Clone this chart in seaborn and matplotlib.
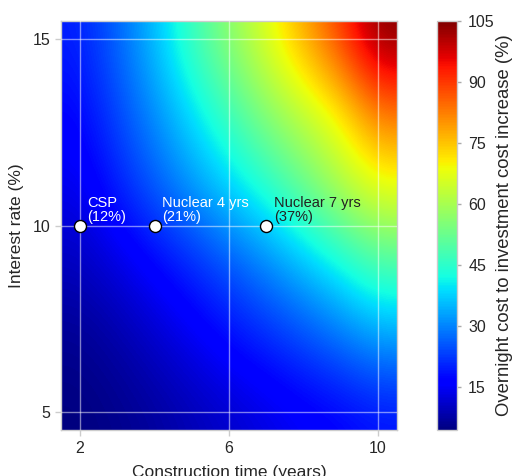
import numpy as np
import pandas as pd
import matplotlib
matplotlib.use("Agg")
import matplotlib.pyplot as plt
import seaborn as sns

# ---- data ----
construction_years = [2, 3, 4, 5, 6, 7, 8, 9, 10]
interest_rates = [5, 7, 9, 11, 13, 15]
increase_r5 = [4.4, 5.5, 7, 9, 11, 13, 15, 16.5, 18.5]
increase_r7 = [6, 8, 11, 14.5, 18, 21, 24.5, 28.5, 33]
increase_r9 = [10, 13, 17, 21, 25.5, 30.5, 36, 42, 49]
increase_r11 = [14, 20, 26, 32, 38, 44, 52, 61, 68]
increase_r13 = [17, 24, 31, 39, 47, 56, 63, 70, 83]
increase_r15 = [20, 27, 36, 47, 57, 67, 78, 90, 105]

plant_names = ["CSP", "Nuclear 4 yrs", "Nuclear 7 yrs"]
plant_years = [2, 4, 7]
plant_rates = [10, 10, 10]
plant_increase = [12, 21, 37]
plant_text_colors = ["white", "white", "#222222"]

cbar_ticks = [15, 30, 45, 60, 75, 90, 105]
x_ticks = [2, 6, 10]
y_ticks = [5, 10, 15]

# ---- style ----
sns.set_theme(style="whitegrid")
plt.rcParams["font.family"] = ["Liberation Sans", "DejaVu Sans"]
text_col = "#262626"

fig = plt.figure(figsize=(5.13, 4.76), dpi=100)
ax = fig.add_axes([0.1197, 0.096, 0.6534, 0.8605])
cax = fig.add_axes([0.852, 0.096, 0.039, 0.8605])

Z = np.array([increase_r5, increase_r7, increase_r9,
              increase_r11, increase_r13, increase_r15])
dx = construction_years[1] - construction_years[0]
dy = interest_rates[1] - interest_rates[0]
extent = [construction_years[0] - dx / 2, construction_years[-1] + dx / 2,
          interest_rates[0] - dy / 2, interest_rates[-1] + dy / 2]
im = ax.imshow(Z, origin="lower", extent=extent, aspect="auto", cmap="jet",
               vmin=Z.min(), vmax=Z.max(), interpolation="bicubic", zorder=0)
ax.set_xlim(construction_years[0] - 0.5, construction_years[-1] + 0.5)
ax.set_ylim(interest_rates[0] - 0.5, interest_rates[-1] + 0.5)

ax.set_xticks(x_ticks)
ax.set_yticks(y_ticks)
ax.grid(True, color="white", alpha=0.5, linewidth=1.0, zorder=1)
ax.set_axisbelow(False)
for s in ax.spines.values():
    s.set_color("#cccccc")
    s.set_linewidth(1.0)
ax.tick_params(axis="both", labelsize=11.5, labelcolor=text_col, length=4,
               color="#cccccc", width=1, pad=4, left=True, bottom=True)

df = pd.DataFrame({"years": plant_years, "rate": plant_rates})
sns.scatterplot(data=df, x="years", y="rate", ax=ax, s=75, color="white",
                edgecolor="black", linewidth=1.0, zorder=5, legend=False)
ax.set_xlabel("Construction time (years)", fontsize=12.5, color=text_col, labelpad=6)
ax.set_ylabel("Interest rate (%)", fontsize=12.5, color=text_col, labelpad=6)
for name, t, r, p, c in zip(plant_names, plant_years, plant_rates,
                            plant_increase, plant_text_colors):
    ax.text(t + 0.2, r + 0.05, f"{name}\n({p}%)", color=c, fontsize=10.5,
            ha="left", va="bottom", linespacing=0.95, zorder=6)

cb = fig.colorbar(im, cax=cax)
cb.set_ticks(cbar_ticks)
cb.outline.set_edgecolor("#cccccc")
cb.outline.set_linewidth(1.0)
cb.ax.tick_params(labelsize=11.5, labelcolor=text_col, length=3, color="#aaaaaa",
                  width=1, pad=5)
cb.set_label("Overnight cost to investment cost increase (%)", fontsize=13.3,
             color=text_col, labelpad=1)
cax.grid(False)

fig.savefig("out.png", dpi=100)
